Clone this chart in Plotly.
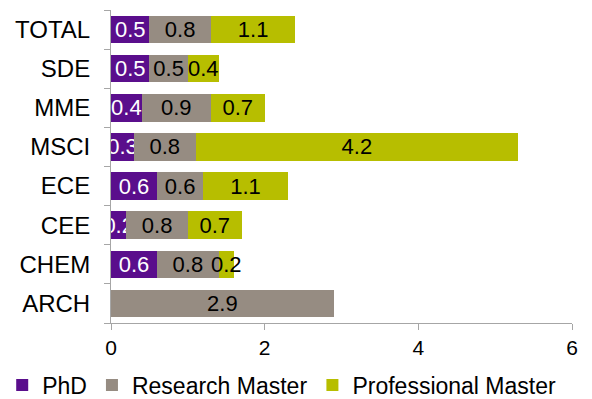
import plotly.graph_objects as go

# Departments, listed bottom-to-top as they appear on the category axis
departments = ["ARCH", "CHEM", "CEE", "ECE", "MSCI", "MME", "SDE", "TOTAL"]

phd = [0.0, 0.6, 0.2, 0.6, 0.3, 0.4, 0.5, 0.5]
research_master = [2.9, 0.8, 0.8, 0.6, 0.8, 0.9, 0.5, 0.8]
professional_master = [0.0, 0.2, 0.7, 1.1, 4.2, 0.7, 0.4, 1.1]

x_ticks = [0, 2, 4, 6]

series = [
    ("PhD", phd, "#5A0E8C", "white"),
    ("Research Master", research_master, "#968C82", "black"),
    ("Professional Master", professional_master, "#B7BE00", "black"),
]

FONT = "Liberation Sans, Arial, sans-serif"
AXIS_GREY = "#A6A6A6"

fig = go.Figure()
for name, values, color, text_color in series:
    labels = [f"{v:.1f}" if v > 0 else "" for v in values]
    fig.add_trace(go.Bar(
        name=name,
        y=departments,
        x=values,
        orientation="h",
        marker=dict(color=color, line=dict(width=0)),
        text=labels,
        textposition="inside",
        insidetextanchor="middle",
        textangle=0,
        constraintext="none",
        textfont=dict(family=FONT, size=22, color=text_color),
        hoverinfo="name+x+y",
    ))

fig.update_layout(
    barmode="stack",
    bargap=0.3,
    width=592,
    height=399,
    margin=dict(l=111, r=20, t=10, b=76, autoexpand=False),
    paper_bgcolor="white",
    plot_bgcolor="white",
    font=dict(family=FONT, size=22, color="black"),
    xaxis=dict(
        range=[0, 6],
        tickvals=x_ticks,
        showgrid=False,
        zeroline=False,
        showline=True,
        linecolor=AXIS_GREY,
        linewidth=1,
        ticks="outside",
        ticklen=6,
        tickcolor=AXIS_GREY,
        tickfont=dict(family=FONT, size=21, color="black"),
        automargin=False,
        fixedrange=True,
    ),
    yaxis=dict(
        categoryorder="array",
        categoryarray=departments,
        showgrid=False,
        zeroline=False,
        showline=True,
        linecolor=AXIS_GREY,
        linewidth=1,
        ticks="outside",
        tickson="boundaries",
        ticklen=6,
        tickcolor=AXIS_GREY,
        ticklabelstandoff=15,
        tickfont=dict(family=FONT, size=24, color="black"),
        automargin=False,
        fixedrange=True,
    ),
    legend=dict(
        orientation="h",
        traceorder="normal",
        x=-0.236,
        xanchor="left",
        y=-0.198,
        yanchor="middle",
        font=dict(family=FONT, size=23, color="black"),
        itemclick=False,
        itemdoubleclick=False,
    ),
    showlegend=True,
)

fig.write_html("out.html")
